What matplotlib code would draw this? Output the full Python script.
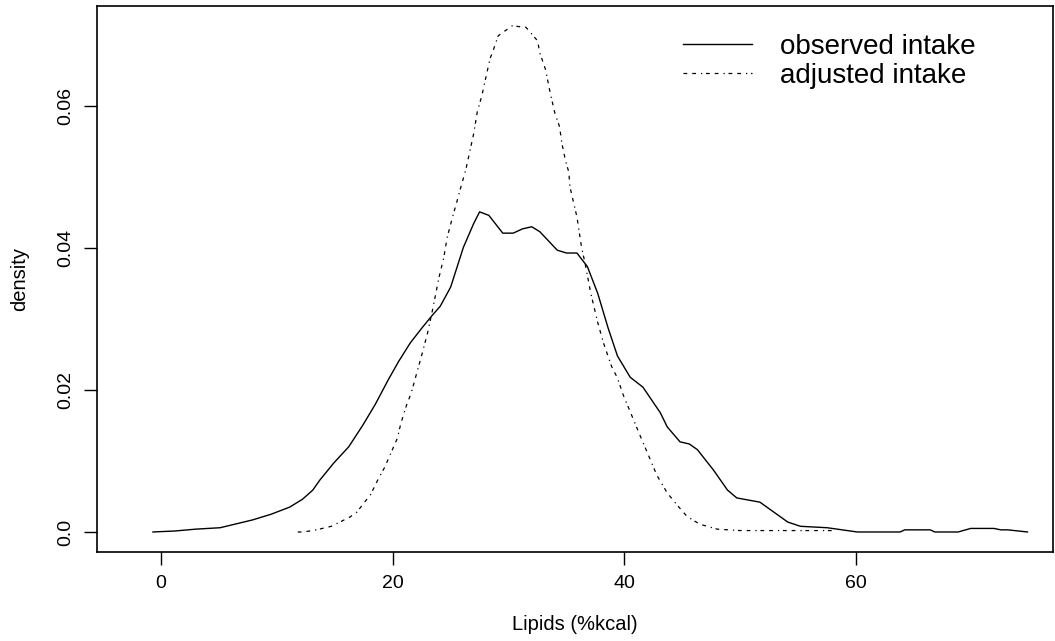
import numpy as np
import matplotlib
matplotlib.use('Agg')
import matplotlib.pyplot as plt

plt.rcParams['font.family'] = ['Liberation Sans', 'DejaVu Sans']

# observed intake density
obs_x = [-0.7, 1.2, 3.0, 5.1, 7.9, 9.5, 11.1, 12.2, 13.1, 13.7, 14.9, 16.2, 17.4, 18.5,
         19.6, 20.5, 21.5, 22.5, 23.4, 24.1, 25.0, 26.1, 27.0, 27.5, 28.3, 29.5, 30.4,
         31.2, 32.0, 32.7, 34.2, 35.0, 35.9, 36.8, 37.7, 38.6, 39.4, 40.5, 41.6, 43.1,
         43.7, 44.8, 45.6, 46.3, 47.7, 48.9, 49.7, 51.7, 52.9, 54.1, 55.2, 57.5, 60.1,
         63.8, 64.2, 66.4, 66.8, 68.8, 69.9, 71.9, 72.5, 73.1, 74.8]
obs_y = [0.0, 0.00014, 0.0004, 0.0006, 0.0017, 0.0025, 0.0035, 0.0046, 0.0059, 0.0073,
         0.0097, 0.0120, 0.0150, 0.0180, 0.0214, 0.0240, 0.0266, 0.0287, 0.0305, 0.0318,
         0.0345, 0.0401, 0.0435, 0.0451, 0.0446, 0.0421, 0.0421, 0.0427, 0.0430, 0.0423,
         0.0397, 0.0393, 0.0393, 0.0374, 0.0336, 0.0287, 0.0248, 0.0218, 0.0204, 0.0168,
         0.0148, 0.0127, 0.0124, 0.0116, 0.0087, 0.0059, 0.0048, 0.0042, 0.0028, 0.0014,
         0.0008, 0.0006, 0.0, 0.0, 0.0003, 0.0003, 0.0, 0.0, 0.0005, 0.0005, 0.0003,
         0.0003, 0.0]

# adjusted intake density
adj_x = [11.8, 12.3, 13.4, 14.7, 16.3, 16.9, 18.1, 18.7, 19.3, 20.4, 20.7, 21.2, 21.6,
         22.5, 23.0, 23.4, 24.0, 24.4, 24.7, 25.2, 25.5, 25.9, 26.3, 26.6, 27.0, 27.3,
         27.7, 28.4, 28.6, 29.1, 30.3, 31.5, 32.5, 32.7, 33.2, 33.6, 34.0, 34.4, 34.6,
         34.9, 35.2, 35.3, 35.6, 35.9, 36.3, 36.6, 37.1, 37.7, 38.2, 38.9, 39.4, 39.9,
         41.4, 42.0, 42.8, 43.7, 44.6, 45.4, 46.5, 48.0, 50.0, 58.0]
adj_y = [0.0, 0.0, 0.0003, 0.0008, 0.0021, 0.0028, 0.0053, 0.0073, 0.0091, 0.0132,
         0.0153, 0.0179, 0.0196, 0.0249, 0.0280, 0.0310, 0.0359, 0.0386, 0.0415, 0.0446,
         0.0463, 0.0487, 0.0510, 0.0532, 0.0562, 0.0592, 0.0615, 0.0667, 0.0675, 0.0699,
         0.0713, 0.0711, 0.0692, 0.0675, 0.0651, 0.0618, 0.0590, 0.0571, 0.0548, 0.0524,
         0.0507, 0.0486, 0.0465, 0.0444, 0.0401, 0.0379, 0.0336, 0.0295, 0.0266, 0.0233,
         0.0217, 0.0193, 0.0134, 0.0111, 0.0080, 0.0055, 0.0037, 0.0022, 0.0011, 0.0004,
         0.0002, 0.0002]

x_ticks = [0, 20, 40, 60]
y_ticks = [0.0, 0.02, 0.04, 0.06]
y_ticklabels = ['0.0', '0.02', '0.04', '0.06']

fig = plt.figure(figsize=(10.55, 6.41), dpi=100)
ax = fig.add_axes([97 / 1055, 89 / 641, 956 / 1055, 546 / 641])

ax.plot(obs_x, obs_y, color='black', lw=1.0, label='observed intake')
ax.plot(adj_x, adj_y, color='black', lw=0.9,
        linestyle=(0, (3, 4, 3, 4, 1, 3)), label='adjusted intake')

ax.set_xlim(-5.53, 77.0)
ax.set_ylim(-0.00282, 0.0741)
ax.set_xticks(x_ticks)
ax.set_yticks(y_ticks)
ax.set_yticklabels(y_ticklabels)
ax.tick_params(length=9.4, width=1.0, labelsize=14, pad=7)
ax.tick_params(axis='y', labelrotation=90)
for t in ax.get_yticklabels():
    t.set_va('center')
for s in ax.spines.values():
    s.set_linewidth(1.2)

ax.set_xlabel('Lipids (%kcal)', fontsize=14.5)
ax.xaxis.label.set_va('center')
ax.xaxis.set_label_coords(0.5, (552 - 625) / 546)
ax.set_ylabel('density', fontsize=14.5)
ax.yaxis.label.set_va('center')
ax.yaxis.set_label_coords((20 - 97) / 956, 0.5)

ax.legend(loc='upper left', bbox_to_anchor=(683 / 1055, (641 - 34) / 641),
          bbox_transform=fig.transFigure, frameon=False, fontsize=20,
          handlelength=2.5, handletextpad=1.0, borderpad=0, borderaxespad=0,
          labelspacing=0.1)

fig.savefig('out.png', dpi=100)
